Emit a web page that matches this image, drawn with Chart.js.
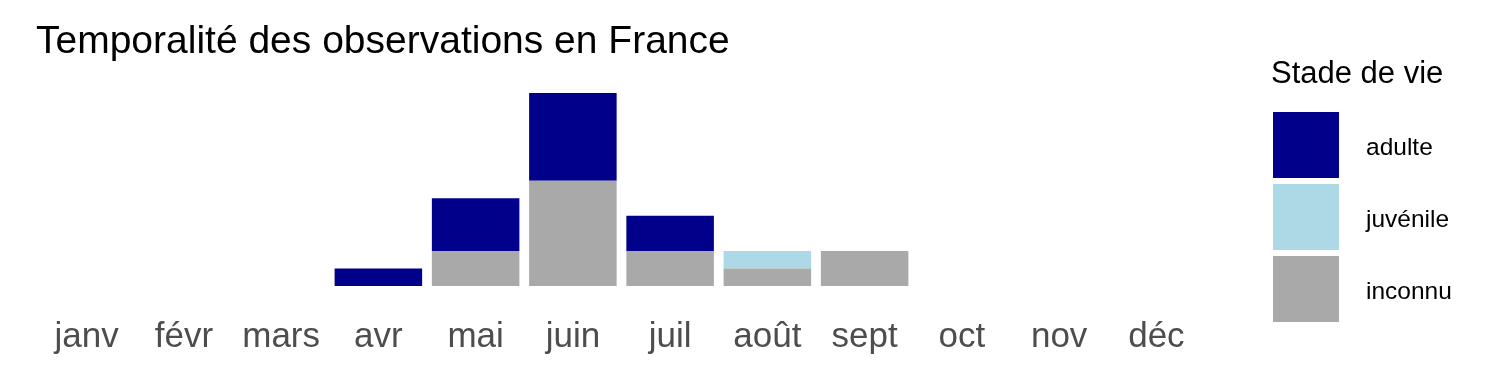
<!DOCTYPE html>
<html>
<head>
<meta charset="utf-8">
<script src="https://cdn.jsdelivr.net/npm/chart.js@4"></script>
<style>
  html, body { margin: 0; padding: 0; background: #fff; }
  #wrap { width: 1500px; height: 375px; }
</style>
</head>
<body>
<div id="wrap"><canvas id="obsChart" width="1500" height="375"></canvas></div>
<script>
// mois (axe x)
const mois = ['janv', 'févr', 'mars', 'avr', 'mai', 'juin', 'juil', 'août', 'sept', 'oct', 'nov', 'déc'];

// nombre d'observations par stade de vie
const adulte   = [0, 0, 0, 1, 3, 5, 2, 0, 0, 0, 0, 0];
const juvenile = [0, 0, 0, 0, 0, 0, 0, 1, 0, 0, 0, 0];
const inconnu  = [0, 0, 0, 0, 2, 6, 2, 1, 2, 0, 0, 0];

const titre = 'Temporalité des observations en France';
const titreLegende = 'Stade de vie';

const FONT = "'Liberation Sans', Arial, sans-serif";

// titre + legende a la ggplot, dessines a la main
const decorPlugin = {
    id: 'decor',
    afterDraw(chart) {
        const ctx = chart.ctx;
        ctx.save();
        ctx.fillStyle = '#000';
        ctx.textAlign = 'left';
        ctx.textBaseline = 'alphabetic';
        ctx.font = '39px ' + FONT;
        ctx.fillText(titre, 36, 53);

        ctx.font = '31px ' + FONT;
        ctx.fillText(titreLegende, 1271, 83);

        // ordre de la legende : du haut vers le bas
        const items = chart.data.datasets.slice().reverse();
        ctx.font = '24.5px ' + FONT;
        ctx.textBaseline = 'middle';
        items.forEach((ds, i) => {
            const y = 112 + i * 72;
            ctx.fillStyle = ds.backgroundColor;
            ctx.fillRect(1273, y, 66, 66);
            ctx.fillStyle = '#000';
            ctx.fillText(ds.label, 1366, y + 36);
        });
        ctx.restore();
    }
};

const ctx = document.getElementById('obsChart').getContext('2d');
new Chart(ctx, {
    type: 'bar',
    data: {
        labels: mois,
        datasets: [
            { label: 'inconnu', data: inconnu, backgroundColor: '#A9A9A9' },
            { label: 'juvénile', data: juvenile, backgroundColor: '#ADD8E6' },
            { label: 'adulte', data: adulte, backgroundColor: '#00008B' }
        ]
    },
    options: {
        responsive: false,
        animation: false,
        events: [],
        datasets: {
            bar: { barPercentage: 0.9, categoryPercentage: 1.0, borderWidth: 0 }
        },
        layout: { padding: { left: 38, right: 295, top: 93, bottom: 0 } },
        plugins: {
            legend: { display: false },
            title: { display: false },
            tooltip: { enabled: false }
        },
        scales: {
            x: {
                stacked: true,
                grid: { display: false, drawTicks: false },
                border: { display: false },
                afterFit(scale) { scale.height = 89; },
                ticks: {
                    padding: 30,
                    color: '#4D4D4D',
                    font: { family: FONT, size: 35 }
                }
            },
            y: {
                stacked: true,
                display: false,
                min: 0,
                max: 11
            }
        }
    },
    plugins: [decorPlugin]
});
</script>
</body>
</html>
